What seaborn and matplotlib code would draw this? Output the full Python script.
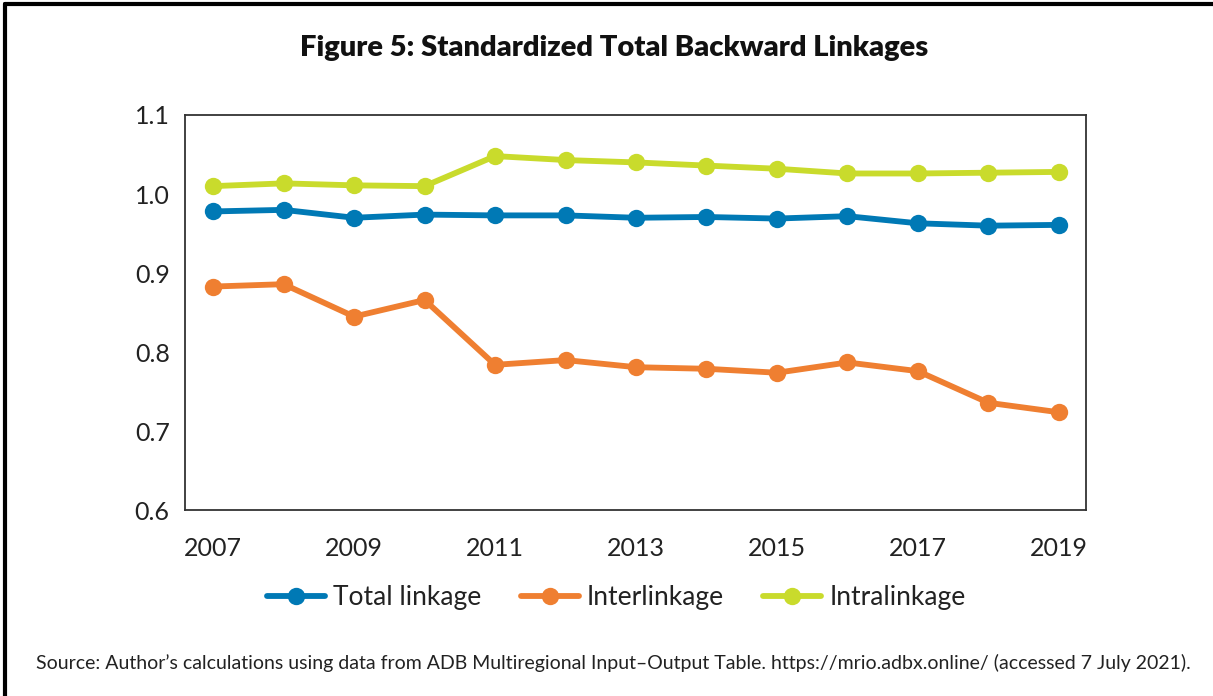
import pandas as pd
import matplotlib.pyplot as plt
import matplotlib.lines as mlines
import seaborn as sns

sns.set_style('white')
plt.rcParams['font.family'] = ['Lato', 'DejaVu Sans']

years = list(range(2007, 2020))
total_linkage = [0.978, 0.980, 0.970, 0.974, 0.973, 0.973, 0.970, 0.971, 0.969, 0.972, 0.963, 0.960, 0.961]
interlinkage = [0.883, 0.886, 0.845, 0.866, 0.784, 0.790, 0.781, 0.779, 0.774, 0.787, 0.776, 0.736, 0.724]
intralinkage = [1.010, 1.0135, 1.011, 1.010, 1.048, 1.043, 1.040, 1.036, 1.032, 1.026, 1.026, 1.027, 1.028]

series_names = ['Total linkage', 'Interlinkage', 'Intralinkage']
colors = ['#0079B5', '#EF7F31', '#C9DB2C']
xticks = [2007, 2009, 2011, 2013, 2015, 2017, 2019]
yticks = [0.6, 0.7, 0.8, 0.9, 1.0, 1.1]

df = pd.DataFrame({
    'year': years * 3,
    'value': total_linkage + interlinkage + intralinkage,
    'series': [s for s in series_names for _ in years],
})

fig = plt.figure(figsize=(12.13, 6.96), dpi=100)
ax = fig.add_axes([0.1525, 0.2668, 0.7425, 0.568])

sns.lineplot(data=df, x='year', y='value', hue='series', hue_order=series_names,
             palette=colors, marker='o', markersize=12.5, markeredgewidth=0,
             linewidth=4.2, ax=ax, legend=False)

ax.set_xlim(2006.6, 2019.38)
ax.set_ylim(0.6, 1.1)
ax.set_xticks(xticks)
ax.set_xticklabels([str(t) for t in xticks])
ax.set_yticks(yticks)
ax.set_yticklabels([f'{t:.1f}' for t in yticks])
ax.set_xlabel('')
ax.set_ylabel('')
for sp in ax.spines.values():
    sp.set_color('#333333')
    sp.set_linewidth(1.3)
ax.tick_params(axis='both', direction='out', length=7, width=1.2, color='#333333',
               labelsize=18, labelcolor='#222222', pad=4)
ax.tick_params(axis='x', pad=12)
ax.grid(False)

handles = [mlines.Line2D([], [], color=c, linewidth=4.2, marker='o', markersize=12.5,
                         markeredgewidth=0) for c in colors]
fig.legend(handles, series_names, loc='center', bbox_to_anchor=(0.508, 0.141), ncol=3,
           frameon=False, fontsize=19, handlelength=2.2, handletextpad=0.3,
           columnspacing=1.5, labelcolor='#222222')

fig.text(0.506, 0.931, 'Figure 5: Standardized Total Backward Linkages', ha='center',
         va='center', fontsize=21, fontweight='heavy', color='#111111')
fig.text(0.506, 0.047, 'Source: Author\u2019s calculations using data from ADB Multiregional '
         'Input\u2013Output Table. https://mrio.adbx.online/ (accessed 7 July 2021).',
         ha='center', va='center', fontsize=14, color='#222222')

# outer frame: top and left edges
fig.add_artist(mlines.Line2D([0.004, 1.0], [0.994, 0.994], color='black', linewidth=3,
                             transform=fig.transFigure))
fig.add_artist(mlines.Line2D([0.004, 0.004], [0.0, 0.994], color='black', linewidth=3,
                             transform=fig.transFigure))

fig.savefig('out.png', dpi=100)
